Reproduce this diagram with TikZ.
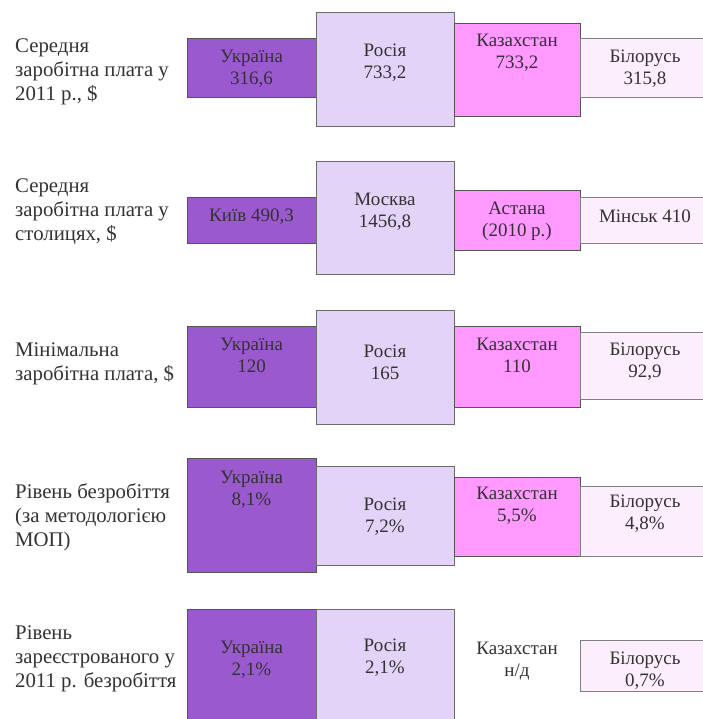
\documentclass[tikz,border=0pt]{standalone}
\usepackage{fontspec}
\setmainfont{Liberation Serif}
\usepackage{tikz}
\usetikzlibrary{positioning}

\definecolor{ukrfill}{RGB}{155,89,207}
\definecolor{rusfill}{RGB}{227,211,248}
\definecolor{kazfill}{RGB}{255,153,255}
\definecolor{blrfill}{RGB}{253,238,253}
\definecolor{txtgray}{RGB}{51,51,51}
\definecolor{edgegray}{RGB}{85,85,85}

\begin{document}
\begin{tikzpicture}
    [
    x=1pt, y=-1pt,
    box/.style={rectangle,draw=edgegray,line width=0.8pt,inner sep=0pt},
    ukr/.style={box,fill=ukrfill},
    rus/.style={box,fill=rusfill,draw=gray!85!black},
    kaz/.style={box,fill=kazfill},
    blr/.style={box,fill=blrfill,draw=gray},
    val/.style={align=center,text=txtgray,inner sep=0pt,font=\fontsize{19}{22}\selectfont},
    rowlabel/.style={anchor=west,align=left,text=txtgray,inner sep=0pt,font=\fontsize{20.8}{24}\selectfont}
    ]
    \useasboundingbox (0,0) rectangle (702,719);
    % row 1: average wage
    \node (l1) at (15,72) [rowlabel] {Середня\\заробітна плата у\\2011 р., \$};
    \node (u1) at (251.5,67.5) [ukr,minimum width=129,minimum height=59] {};
    \node (r1) at (385,69) [rus,minimum width=138,minimum height=114] {};
    \node (k1) at (517,69.5) [kaz,minimum width=126,minimum height=93] {};
    \node (b1) at (643,67.5) [blr,minimum width=126,minimum height=59] {};
    \node (tu1) at (251.5,69) [val] {Україна\\316,6};
    \node (tr1) at (385,63) [val] {Росія\\733,2};
    \node (tk1) at (517,53) [val] {Казахстан\\733,2};
    \node (tb1) at (645,69) [val] {Білорусь\\315,8};
    % row 2: wage in capitals
    \node (l2) at (15,212) [rowlabel] {Середня\\заробітна плата у\\столицях, \$};
    \node (u2) at (251.5,220) [ukr,minimum width=129,minimum height=46] {};
    \node (r2) at (385,217.5) [rus,minimum width=138,minimum height=113] {};
    \node (k2) at (517,220) [kaz,minimum width=126,minimum height=60] {};
    \node (b2) at (643,220) [blr,minimum width=126,minimum height=46] {};
    \node (tu2) at (251.5,217) [val] {Київ 490,3};
    \node (tr2) at (385,212) [val] {Москва\\1456,8};
    \node (tk2) at (517,221) [val] {Астана\\(2010 р.)};
    \node (tb2) at (645,216) [val] {Мінськ 410};
    % row 3: minimum wage
    \node (l3) at (15,363.5) [rowlabel] {Мінімальна\\заробітна плата, \$};
    \node (u3) at (251.5,366.5) [ukr,minimum width=129,minimum height=81] {};
    \node (r3) at (385,367) [rus,minimum width=138,minimum height=114] {};
    \node (k3) at (517,366.5) [kaz,minimum width=126,minimum height=81] {};
    \node (b3) at (643,365.5) [blr,minimum width=126,minimum height=67] {};
    \node (tu3) at (251.5,355) [val] {Україна\\120};
    \node (tr3) at (385,362) [val] {Росія\\165};
    \node (tk3) at (517,355) [val] {Казахстан\\110};
    \node (tb3) at (645,362) [val] {Білорусь\\92,9};
    % row 4: unemployment (ILO)
    \node (l4) at (15,517) [rowlabel] {Рівень безробіття\\(за методологією\\МОП)};
    \node (u4) at (251.5,515) [ukr,minimum width=129,minimum height=114] {};
    \node (r4) at (385,515.5) [rus,minimum width=138,minimum height=99] {};
    \node (k4) at (517,516.5) [kaz,minimum width=126,minimum height=79] {};
    \node (b4) at (643,521) [blr,minimum width=126,minimum height=70] {};
    \node (tu4) at (251.5,490) [val] {Україна\\8,1\%};
    \node (tr4) at (385,517) [val] {Росія\\7,2\%};
    \node (tk4) at (517,506) [val] {Казахстан\\5,5\%};
    \node (tb4) at (645,514) [val] {Білорусь\\4,8\%};
    % row 5: registered unemployment
    \node (l5) at (15,659) [rowlabel] {Рівень\\зареєстрованого у\\2011 р. безробіття};
    \node (u5) at (251.5,669.5) [ukr,minimum width=129,minimum height=121] {};
    \node (r5) at (385,669.5) [rus,minimum width=138,minimum height=121] {};
    \node (b5) at (643,665.5) [blr,minimum width=126,minimum height=51] {};
    \node (tu5) at (251.5,660) [val] {Україна\\2,1\%};
    \node (tr5) at (385,658) [val] {Росія\\2,1\%};
    \node (tk5) at (517,661) [val] {Казахстан\\н/д};
    \node (tb5) at (645,671) [val] {Білорусь\\0,7\%};
\end{tikzpicture}
\end{document}
